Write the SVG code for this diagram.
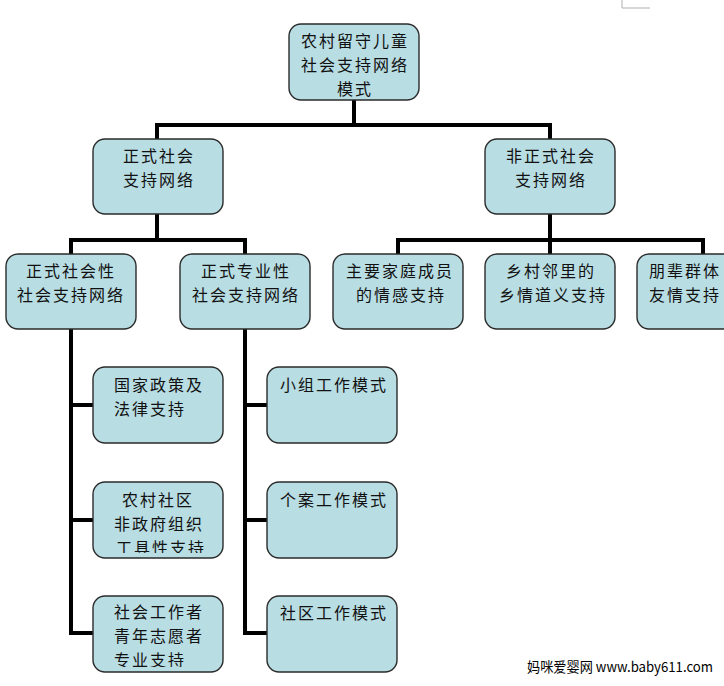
<svg xmlns="http://www.w3.org/2000/svg" width="724" height="686" viewBox="0 0 724 686">
<style>
.box{fill:#b8dde3;stroke:#2b2b2b;stroke-width:1.4}
.t{font-family:"Noto Sans CJK SC","Noto Sans",sans-serif;font-size:16px;letter-spacing:2px;fill:#111}
.c{text-anchor:middle}
.con{fill:none;stroke:#000;stroke-width:4;stroke-linejoin:miter;stroke-linecap:butt}
.wm{font-family:"Noto Sans CJK SC","Noto Sans",sans-serif;font-size:14px;fill:#000}
</style>
<defs>
<clipPath id="clipB2"><rect x="93" y="482" width="130" height="71"/></clipPath>
<clipPath id="clipB3"><rect x="93" y="596" width="130" height="71"/></clipPath>
</defs>
<rect width="724" height="686" fill="#fff"/>
<polyline points="622,0 622,8 650,8" fill="none" stroke="#b0b0b0" stroke-width="1"/>
<g id="connectors">
<path class="con" d="M354 100 V125 M157 139 V125 H550 V139"/>
<path class="con" d="M157 214 V240 M71 254 V240 H245 V254"/>
<path class="con" d="M550 214 V254 M398 254 V240 H703 V254"/>
<path class="con" d="M71 329 V633 H93 M71 405 H93 M71 520 H93"/>
<path class="con" d="M245 329 V633 H267 M245 405 H267 M245 520 H267"/>
</g>
<g id="root">
<rect class="box" x="289" y="24" width="130" height="76" rx="12"/>
<text class="t c" x="355" y="47">农村留守儿童</text>
<text class="t c" x="355" y="71">社会支持网络</text>
<text class="t c" x="355" y="95">模式</text>
</g>
<g id="formal">
<rect class="box" x="93" y="139" width="130" height="75" rx="12"/>
<text class="t c" x="159" y="162">正式社会</text>
<text class="t c" x="159" y="186">支持网络</text>
</g>
<g id="informal">
<rect class="box" x="485" y="139" width="130" height="75" rx="12"/>
<text class="t c" x="551" y="162">非正式社会</text>
<text class="t c" x="551" y="186">支持网络</text>
</g>
<g id="formal-social">
<rect class="box" x="6" y="254" width="130" height="75" rx="12"/>
<text class="t c" x="71" y="277">正式社会性</text>
<text class="t c" x="71" y="301">社会支持网络</text>
</g>
<g id="formal-professional">
<rect class="box" x="180" y="254" width="130" height="75" rx="12"/>
<text class="t c" x="246" y="277">正式专业性</text>
<text class="t c" x="246" y="301">社会支持网络</text>
</g>
<g id="family">
<rect class="box" x="333" y="254" width="130" height="75" rx="12"/>
<text class="t c" x="400" y="277">主要家庭成员</text>
<text class="t c" x="401" y="301">的情感支持</text>
</g>
<g id="neighbors">
<rect class="box" x="485" y="254" width="130" height="75" rx="12"/>
<text class="t c" x="551" y="277">乡村邻里的</text>
<text class="t c" x="553" y="301">乡情道义支持</text>
</g>
<g id="peers">
<rect class="box" x="637" y="254" width="130" height="75" rx="12"/>
<text class="t" x="649" y="277">朋辈群体</text>
<text class="t" x="649" y="301">友情支持</text>
</g>
<g id="policy">
<rect class="box" x="93" y="367" width="130" height="76" rx="12"/>
<text class="t" x="114" y="391">国家政策及</text>
<text class="t" x="114" y="415">法律支持</text>
</g>
<g id="community-ngo">
<rect class="box" x="93" y="482" width="130" height="76" rx="12"/>
<g clip-path="url(#clipB2)">
<text class="t c" x="158" y="506">农村社区</text>
<text class="t c" x="159" y="530">非政府组织</text>
<text class="t c" x="161" y="554">工具性支持</text>
</g>
</g>
<g id="social-workers">
<rect class="box" x="93" y="596" width="130" height="76" rx="12"/>
<g clip-path="url(#clipB3)">
<text class="t" x="114" y="618">社会工作者</text>
<text class="t" x="114" y="642">青年志愿者</text>
<text class="t" x="114" y="666">专业支持</text>
</g>
</g>
<g id="group-work">
<rect class="box" x="267" y="367" width="130" height="76" rx="12"/>
<text class="t c" x="334" y="391">小组工作模式</text>
</g>
<g id="case-work">
<rect class="box" x="267" y="482" width="130" height="76" rx="12"/>
<text class="t c" x="334" y="506">个案工作模式</text>
</g>
<g id="community-work">
<rect class="box" x="267" y="596" width="130" height="76" rx="12"/>
<text class="t c" x="334" y="619">社区工作模式</text>
</g>
<text class="wm" x="527" y="672" textLength="186" lengthAdjust="spacingAndGlyphs">妈咪爱婴网 www.baby611.com</text>
</svg>
